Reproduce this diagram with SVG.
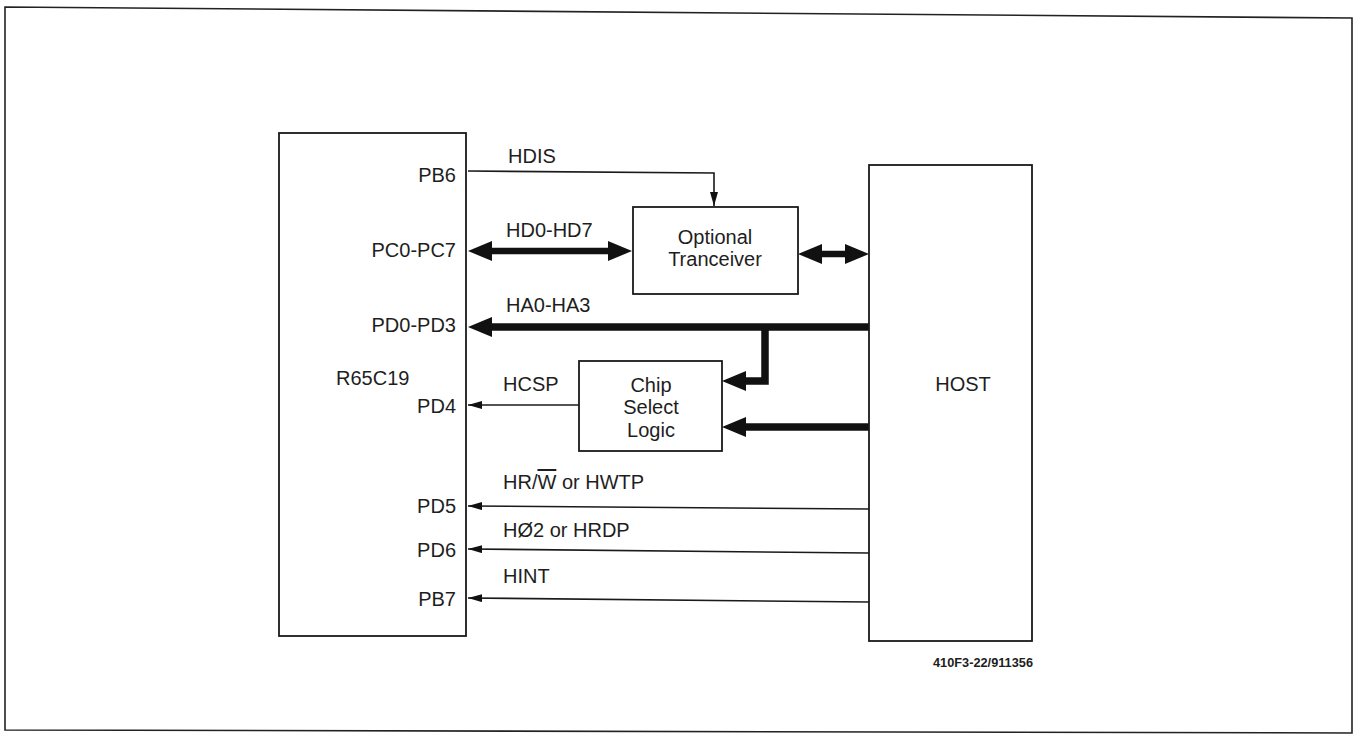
<svg xmlns="http://www.w3.org/2000/svg" width="1355" height="736" viewBox="0 0 1355 736">
<style>
.box{fill:#fff;stroke:#1a1a1a;stroke-width:1.8}
.t{font-family:"Liberation Sans",Arial,sans-serif;font-size:20px;fill:#1e1e1e}
.r{text-anchor:end}
.m{text-anchor:middle}
.thin{fill:none;stroke:#1a1a1a;stroke-width:1.6}
.thick{fill:none;stroke:#111;stroke-width:7.5;stroke-linejoin:miter}
.mid{fill:none;stroke:#111;stroke-width:6.5}
.frame{fill:none;stroke:#222;stroke-width:1.6}
</style>
<defs>
<marker id="ah" viewBox="0 0 14 8" refX="14" refY="4" markerWidth="14" markerHeight="8" markerUnits="userSpaceOnUse" orient="auto-start-reverse">
<path d="M0,0 L14,4 L0,8 Z" fill="#111"/>
</marker>
<marker id="big" viewBox="0 0 24 20" refX="10" refY="10" markerWidth="24" markerHeight="20" markerUnits="userSpaceOnUse" orient="auto-start-reverse">
<path d="M0,0 L24,10 L0,20 Z" fill="#111"/>
</marker>
</defs>
<rect width="1355" height="736" fill="#fff"/>
<path class="frame" d="M5,7 L1352,18 L1352,733 L5,730 Z"/>

<g id="connectors">
<path class="thin" d="M468,171 L714,173 L714,206" marker-end="url(#ah)"/>
<path class="mid" d="M482,251 L618,251" marker-start="url(#big)" marker-end="url(#big)"/>
<path class="mid" d="M812,254 L855,254" marker-start="url(#big)" marker-end="url(#big)"/>
<path class="thick" d="M869,327 L482,327" marker-end="url(#big)"/>
<path class="thick" d="M765,327 L765,381 L736,381" marker-end="url(#big)"/>
<path class="thick" d="M869,427 L736,427" marker-end="url(#big)"/>
<path class="thin" d="M579,405 L468,405" marker-end="url(#ah)"/>
<path class="thin" d="M869,509 L468,506" marker-end="url(#ah)"/>
<path class="thin" d="M869,553 L468,549" marker-end="url(#ah)"/>
<path class="thin" d="M869,602 L468,598" marker-end="url(#ah)"/>
</g>

<g id="labels">
<text class="t" x="508" y="163">HDIS</text>
<text class="t" x="506" y="237">HD0-HD7</text>
<text class="t" x="506" y="312">HA0-HA3</text>
<text class="t" x="503" y="391">HCSP</text>
<text class="t" x="503" y="489">HR/<tspan text-decoration="overline">W</tspan> or HWTP</text>
<text class="t" x="503" y="537">HØ2 or HRDP</text>
<text class="t" x="503" y="583">HINT</text>
</g>

<g id="r65c19">
<rect class="box" x="279" y="133" width="187" height="503"/>
<text class="t r" x="456" y="182">PB6</text>
<text class="t r" x="456" y="257">PC0-PC7</text>
<text class="t r" x="456" y="332">PD0-PD3</text>
<text class="t" x="336" y="385">R65C19</text>
<text class="t r" x="456" y="413">PD4</text>
<text class="t r" x="456" y="513">PD5</text>
<text class="t r" x="456" y="557">PD6</text>
<text class="t r" x="456" y="606">PB7</text>
</g>

<g id="transceiver">
<rect class="box" x="633" y="207" width="165" height="87"/>
<text class="t m" x="715" y="244">Optional</text>
<text class="t m" x="715" y="266">Tranceiver</text>
</g>

<g id="chipselect">
<rect class="box" x="579" y="361" width="143" height="90"/>
<text class="t m" x="651" y="392">Chip</text>
<text class="t m" x="651" y="414">Select</text>
<text class="t m" x="651" y="437">Logic</text>
</g>

<g id="host">
<rect class="box" x="869" y="165" width="163" height="476"/>
<text class="t m" x="963" y="391">HOST</text>
</g>

<text x="933" y="667" font-family="'Liberation Sans',Arial,sans-serif" font-size="12" font-weight="bold" fill="#1e1e1e" textLength="100" lengthAdjust="spacingAndGlyphs">410F3-22/911356</text>
</svg>
